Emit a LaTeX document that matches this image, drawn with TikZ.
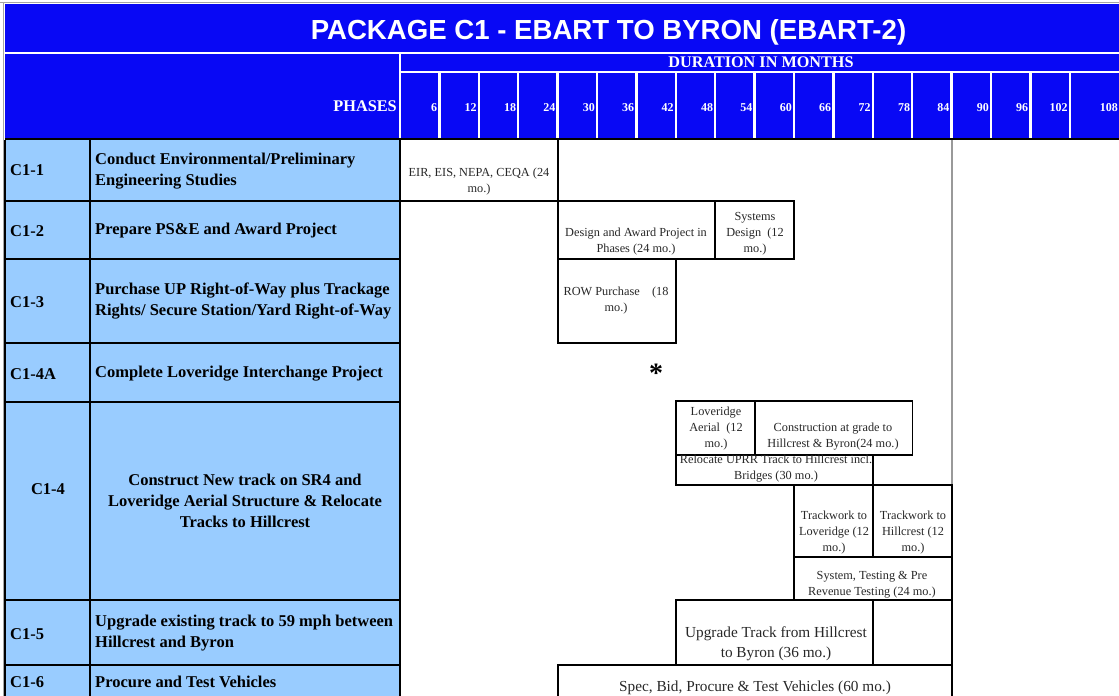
\documentclass[tikz,border=0pt]{standalone}
\usepackage{fontspec}
\setmainfont{Liberation Serif}
\newfontfamily\titlefont{Liberation Sans}
\definecolor{hdrblue}{RGB}{8,8,245}
\definecolor{cellblue}{RGB}{153,204,255}
\definecolor{bartext}{RGB}{40,40,40}
\tikzset{
  hdrline/.style={white, line width=2.5pt},
  gridline/.style={black, line width=2pt},
  barbox/.style={black, line width=1.8pt},
  idtext/.style={font=\fontsize{16.5}{21}\selectfont\bfseries, inner sep=0pt, anchor=west},
  desctext/.style={font=\fontsize{16.5}{21}\selectfont\bfseries, inner sep=0pt, anchor=west, align=left},
  bartxt/.style={font=\fontsize{12.3}{16}\selectfont, text=bartext, inner sep=0pt, align=center},
  bigbartxt/.style={font=\fontsize{15.3}{20}\selectfont, text=bartext, inner sep=0pt, align=center},
  mlab/.style={font=\fontsize{12}{13}\selectfont\bfseries, text=white, inner sep=0pt, anchor=east}
}
\begin{document}
\begin{tikzpicture}[x=1pt,y=-1pt]
\useasboundingbox (0,0) rectangle (1119,696);
% header
\fill[white] (0,0) rectangle (1119,696);
\fill[hdrblue] (5,4) rectangle (1119,138);
\draw[gray!70, line width=1.5pt] (0,2.5) -- (1119,2.5);
\draw[gray!70, line width=1.5pt] (3.5,2) -- (3.5,696);
\node[font=\titlefont\fontsize{27.6}{30}\selectfont\bfseries, text=white, inner sep=0pt] (title) at (608.5,32) {PACKAGE C1 - EBART TO BYRON (EBART-2)};
\draw[hdrline] (5,53) -- (1119,53);
\draw[hdrline] (400,53) -- (400,138);
\draw[hdrline] (400,72) -- (1119,72);
\node[font=\fontsize{16.2}{17}\selectfont\bfseries, text=white, inner sep=0pt] (dur) at (761,62.5) {DURATION IN MONTHS};
\node[font=\fontsize{16.3}{17}\selectfont\bfseries, text=white, inner sep=0pt, anchor=east] (phases) at (397,106) {PHASES};
\foreach \k in {1,...,17} {\draw[hdrline] ({400+39.4*\k},72) -- ({400+39.4*\k},138);}
\foreach \k/\lab in {1/6,2/12,3/18,4/24,5/30,6/36,7/42,8/48,9/54,10/60,11/66,12/72,13/78,14/84,15/90,16/96,17/102} {
  \node[mlab] (m\k) at ({400+39.4*\k-2},108) {\lab};
}
\node[mlab] (m18) at (1118,108) {108};
\draw[black, line width=2.5pt] (5,139) -- (1119,139);
% left table
\fill[cellblue] (5,140) rectangle (400,696);
\draw[gridline] (5,140) -- (5,696);
\draw[gridline] (90,140) -- (90,696);
\draw[gridline] (400,140) -- (400,696);
\foreach \yy in {201,259,343,402,600,665} {\draw[gridline] (5,\yy) -- (400,\yy);}
% ids
\node[idtext] (id1) at (10,170) {C1-1};
\node[idtext] (id2) at (10,231) {C1-2};
\node[idtext] (id3) at (10,302) {C1-3};
\node[idtext] (id4a) at (10,374) {C1-4A};
\node[idtext, anchor=center] (id4) at (48,489) {C1-4};
\node[idtext] (id5) at (10,634) {C1-5};
\node[idtext] (id6) at (10,682) {C1-6};
% descriptions
\node[desctext] (d1) at (95,171.5) {Conduct Environmental/Preliminary\\Engineering Studies};
\node[desctext] (d2) at (95,231) {Prepare PS\&E and Award Project};
\node[desctext] (d3) at (95,301.5) {Purchase UP Right-of-Way plus Trackage\\Rights/ Secure Station/Yard Right-of-Way};
\node[desctext] (d4a) at (95,374) {Complete Loveridge Interchange Project};
\node[desctext, anchor=center, align=center] (d4) at (245,501) {Construct New track on SR4 and\\Loveridge Aerial Structure \& Relocate\\Tracks to Hillcrest};
\node[desctext] (d5) at (95,633.5) {Upgrade existing track to 59 mph between\\Hillcrest and Byron};
\node[desctext] (d6) at (95,682) {Procure and Test Vehicles};
% gantt area
\draw[gray!80, line width=1.5pt] (952,140) -- (952,696);
% C1-1
\draw[barbox] (400,201) -- (557.6,201) -- (557.6,140);
\node[bartxt] (eir) at (479,182) {EIR, EIS, NEPA, CEQA (24\\mo.)};
% C1-2
\draw[barbox] (557.6,201) rectangle (715.2,259);
\draw[barbox] (715.2,201) rectangle (794,259);
\node[bartxt] (design) at (636,242) {Design and Award Project in\\Phases (24 mo.)};
\node[bartxt] (sysd) at (755,234) {Systems\\Design~~(12\\mo.)};
% C1-3
\draw[barbox] (557.6,259) rectangle (675.8,343);
\node[bartxt] (row) at (616,301) {ROW Purchase~~~~(18\\mo.)};
% C1-4A
\node[font=\fontsize{28}{28}\selectfont\bfseries, inner sep=0pt] (ast) at (656,373) {*};
% C1-4
\draw[barbox] (675.8,401) rectangle (754.6,455);
\draw[barbox] (754.6,401) rectangle (912.4,455);
\draw[barbox] (675.8,455) rectangle (872.8,485);
\draw[barbox] (794,485) rectangle (872.8,557);
\draw[barbox] (872.8,485) rectangle (951.6,557);
\draw[barbox] (794,557) rectangle (951.6,600);
\node[bartxt] (lovaer) at (716,429) {Loveridge\\Aerial~~(12\\mo.)};
\node[bartxt] (constr) at (833,437) {Construction at grade to\\Hillcrest \& Byron(24 mo.)};
\node[bartxt] (reloc) at (776,469) {Relocate UPRR Track to Hillcrest incl.\\Bridges (30 mo.)};
\node[bartxt] (tlov) at (834,533) {Trackwork to\\Loveridge (12\\mo.)};
\node[bartxt] (thill) at (913,533) {Trackwork to\\Hillcrest (12\\mo.)};
\node[bartxt] (systest) at (872,585) {System, Testing \& Pre\\Revenue Testing (24 mo.)};
% C1-5
\draw[barbox] (675.8,600) rectangle (872.8,665);
\draw[barbox] (872.8,600) rectangle (951.6,665);
\node[bigbartxt] (upg) at (776,644) {Upgrade Track from Hillcrest\\to Byron (36 mo.)};
% C1-6
\draw[barbox] (557.6,698) -- (557.6,665) -- (951.6,665) -- (951.6,698);
\node[bigbartxt] (spec) at (755,688) {Spec, Bid, Procure \& Test Vehicles (60 mo.)};
\end{tikzpicture}
\end{document}
